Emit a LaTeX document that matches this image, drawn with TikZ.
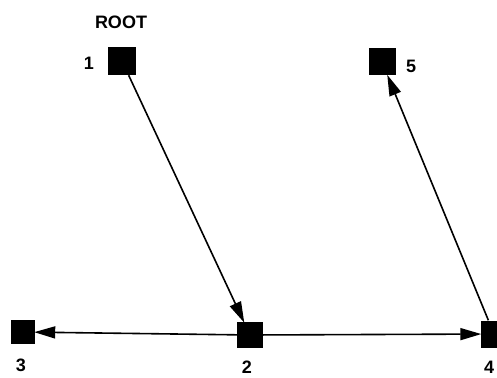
\documentclass[tikz,border=0pt]{standalone}
\usepackage{fontspec}
\setmainfont{Liberation Sans}
\usetikzlibrary{arrows.meta}
\begin{document}
\begin{tikzpicture}[x=1pt,y=-1pt,
  vertex/.style={fill=black,draw=none,minimum size=#1,inner sep=0pt},
  vertex/.default=26pt,
  lbl/.style={font=\fontsize{18}{20}\selectfont\bfseries,inner sep=0pt},
  edge/.style={line width=1.6pt,-{Triangle[length=21pt,width=12pt]},shorten >=-1pt}]
\useasboundingbox (0,0) rectangle (497,377);
% tree vertices
\node[vertex=28pt] (n1) at (122,61) {};
\node[vertex=26pt] (n2) at (250,335) {};
\node[vertex=24pt] (n3) at (23,332) {};
\node[vertex=27pt] (n4) at (494,334) {};
\node[vertex=27pt] (n5) at (382,62) {};
% labels
\node[lbl] (root) at (121,22) {ROOT};
\node[lbl] (l1) at (89,63) {1};
\node[lbl] (l2) at (247,367) {2};
\node[lbl] (l3) at (21,365) {3};
\node[lbl] (l4) at (489,367) {4};
\node[lbl] (l5) at (411,66) {5};
% directed edges
\draw[edge] (n1) -- (n2);
\draw[edge] (n2) -- (n3);
\draw[edge] (n2) -- (n4);
\draw[edge] (n4) -- (n5);
\end{tikzpicture}
\end{document}
